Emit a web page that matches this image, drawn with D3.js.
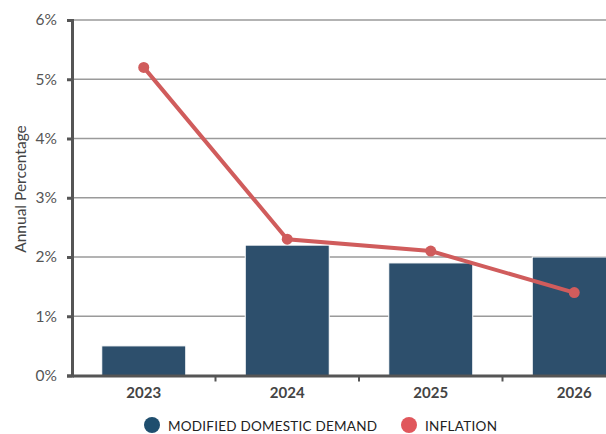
<!DOCTYPE html>
<html><head><meta charset="utf-8">
<script src="https://cdn.jsdelivr.net/npm/d3@7"></script>
<style>
body{margin:0;background:#fff;}
svg{display:block;font-family:Lato,"Open Sans",sans-serif;}
</style></head>
<body><svg id="c" width="606" height="434"></svg>
<script>
const years = ["2023","2024","2025","2026"];
const demand = [0.5, 2.2, 1.9, 2.0];
const inflation = [5.2, 2.3, 2.1, 1.4];
const yTicks = [0,1,2,3,4,5,6];
const legendLabels = ["MODIFIED DOMESTIC DEMAND","INFLATION"];

const svg = d3.select("#c");
const mLeft = 72, mTop = 20, mBottom = 375.5;
const x = d3.scaleBand().domain(years).range([mLeft, mLeft + 4*143.5]).padding(0);
const y = d3.scaleLinear().domain([0,6]).range([mBottom, mTop]);
const barW = 84;

// gridlines
svg.append("g").selectAll("line").data(yTicks.filter(d=>d>0)).join("line")
  .attr("x1", mLeft).attr("x2", 606).attr("y1", d=>y(d)).attr("y2", d=>y(d))
  .attr("stroke", "#9a9a9a").attr("stroke-width", 1.5);

// bars
svg.append("g").selectAll("rect").data(years).join("rect")
  .attr("x", d=>x(d)+x.bandwidth()/2-barW/2)
  .attr("width", barW)
  .attr("y", (d,i)=>y(demand[i]))
  .attr("height", (d,i)=>y(0)-y(demand[i]))
  .attr("fill", "#2d4f6c").attr("stroke","#fff").attr("stroke-width",1);

// y axis
const yAxis = svg.append("g").attr("transform", `translate(${mLeft},0)`)
  .call(d3.axisLeft(y).tickValues(yTicks).tickFormat(d=>d+"%").tickSize(5).tickPadding(10));
yAxis.select(".domain").attr("stroke","#555").attr("stroke-width",3);
yAxis.selectAll(".tick line").attr("stroke","#555").attr("stroke-width",3);
yAxis.selectAll(".tick text").attr("font-size",15.5).attr("fill","#555").attr("font-family","Lato,sans-serif");

// x axis
const xAxis = svg.append("g").attr("transform", `translate(0,${mBottom})`)
  .call(d3.axisBottom(x).tickSize(0).tickPadding(12));
xAxis.select(".domain").attr("stroke","#555").attr("stroke-width",3);
xAxis.selectAll(".tick text").attr("font-size",15).attr("fill","#444").attr("font-weight","bold").attr("font-family","Lato,sans-serif");
// boundary ticks
svg.append("g").selectAll("line").data(years.slice(1)).join("line")
  .attr("x1", d=>x(d)).attr("x2", d=>x(d)).attr("y1", mBottom).attr("y2", mBottom+6)
  .attr("stroke","#555").attr("stroke-width",2);

// inflation line
const line = d3.line().x((d,i)=>x(years[i])+x.bandwidth()/2).y(d=>y(d));
svg.append("path").datum(inflation).attr("d", line)
  .attr("fill","none").attr("stroke","#d05c5c").attr("stroke-width",4);
svg.append("g").selectAll("circle").data(inflation).join("circle")
  .attr("cx",(d,i)=>x(years[i])+x.bandwidth()/2).attr("cy", d=>y(d)).attr("r",5.5)
  .attr("fill","#d05c5c");

// y title
svg.append("text").attr("transform","translate(26,189) rotate(-90)")
  .attr("text-anchor","middle").attr("font-size",15.5).attr("fill","#444")
  .text("Annual Percentage");

// legend
const leg = svg.append("g");
const legColors = ["#1f4e6e","#e0575c"];
const legX = [152, 409];
const legW = [209, 72];
legendLabels.forEach((l,i)=>{
  leg.append("circle").attr("cx",legX[i]).attr("cy",425).attr("r",8).attr("fill",legColors[i]);
  leg.append("text").attr("x",legX[i]+16).attr("y",431).attr("font-size",13.5)
    .attr("textLength",legW[i]).attr("lengthAdjust","spacing")
    .attr("fill","#222").text(l);
});
</script></body></html>
